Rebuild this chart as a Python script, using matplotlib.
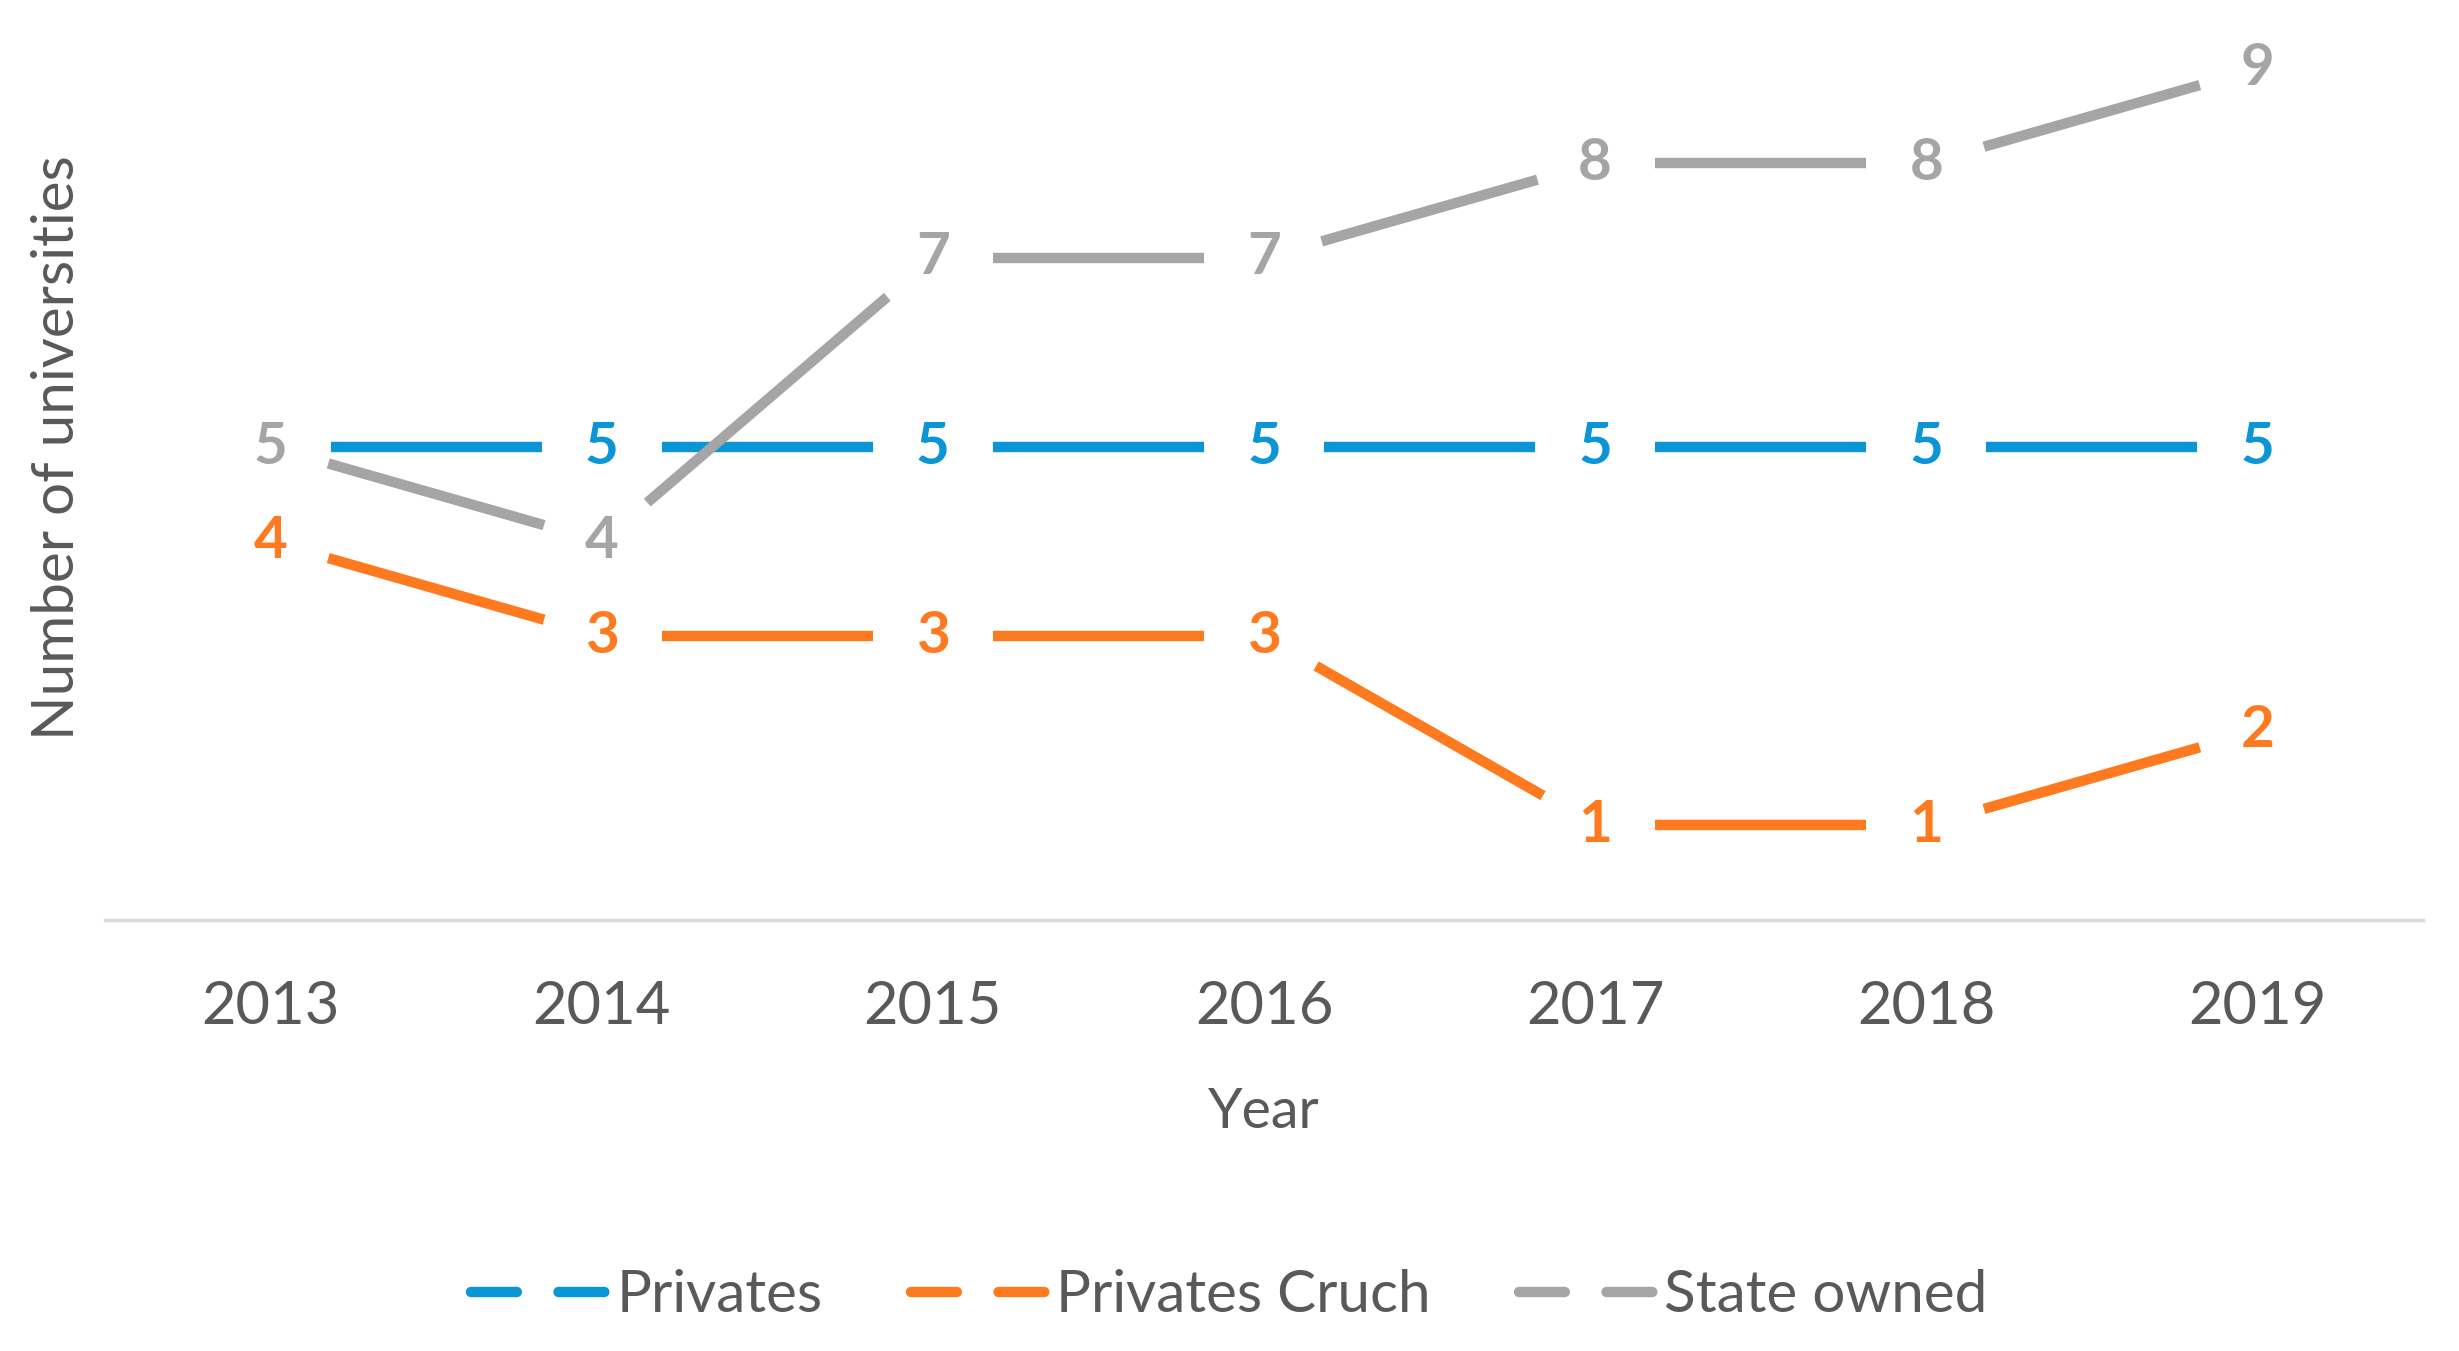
import matplotlib.pyplot as plt
import numpy as np
from matplotlib.lines import Line2D

plt.rcParams['font.family'] = ['Lato', 'DejaVu Sans']

# Data
years = ["2013", "2014", "2015", "2016", "2017", "2018", "2019"]
privates = [5, 5, 5, 5, 5, 5, 5]
privates_cruch = [4, 3, 3, 3, 1, 1, 2]
state_owned = [5, 4, 7, 7, 8, 8, 9]

series = [
    ("Privates", privates, "#0A96D6"),
    ("Privates Cruch", privates_cruch, "#FF7A1E"),
    ("State owned", state_owned, "#A5A5A5"),
]

text_color = "#595959"
gap_px = 60  # line break around each data label

fig = plt.figure(figsize=(24.59, 13.51), dpi=100)
ax = fig.add_axes([105 / 2459, 1 - 920 / 1351, (2423 - 105) / 2459, 920 / 1351])
x = np.arange(len(years))
ax.set_xlim(-0.5, len(years) - 0.5)
ax.set_ylim(0, 920 / 94.6)

for s in ["top", "right", "left"]:
    ax.spines[s].set_visible(False)
ax.spines["bottom"].set_color("#D9D9D9")
ax.spines["bottom"].set_linewidth(2.5)
ax.set_yticks([])
ax.set_xticks(x)
ax.set_xticklabels(years, fontsize=43, color=text_color)
ax.tick_params(axis="x", length=0, pad=43)
ax.set_xlabel("Year", fontsize=40, color=text_color, labelpad=38)
fig.text(58 / 2459, 1 - 448 / 1351, "Number of universities", rotation=90,
         fontsize=42, color=text_color, ha="center", va="center")

to_disp = ax.transData
to_data = ax.transData.inverted()

for name, vals, col in series:
    pts = to_disp.transform(np.column_stack([x, vals]))
    for i in range(len(pts) - 1):
        p0, p1 = pts[i], pts[i + 1]
        d = p1 - p0
        u = d / np.hypot(*d)
        a = to_data.transform(p0 + u * gap_px)
        b = to_data.transform(p1 - u * gap_px)
        ax.plot([a[0], b[0]], [a[1], b[1]], color=col, lw=7.5,
                solid_capstyle="butt", zorder=2)
    for xi, v in zip(x, vals):
        ax.text(xi, v, str(v), color=col, fontsize=42, fontweight="bold",
                ha="center", va="center", zorder=3,
                bbox=dict(boxstyle="square,pad=0.05", fc="white", ec="none"))

handles = [Line2D([], [], color=col, lw=7.5, linestyle=(0, (4.4, 4.0)),
                  dash_capstyle="round") for _, _, col in series]
fig.legend(handles, [s[0] for s in series], loc="center",
           bbox_to_anchor=(0.5, 1 - 1296 / 1351), ncol=3, frameon=False,
           fontsize=42, handlelength=2.4, handletextpad=0.1,
           columnspacing=1.5, labelcolor=text_color)

fig.savefig("out.png", dpi=100)
